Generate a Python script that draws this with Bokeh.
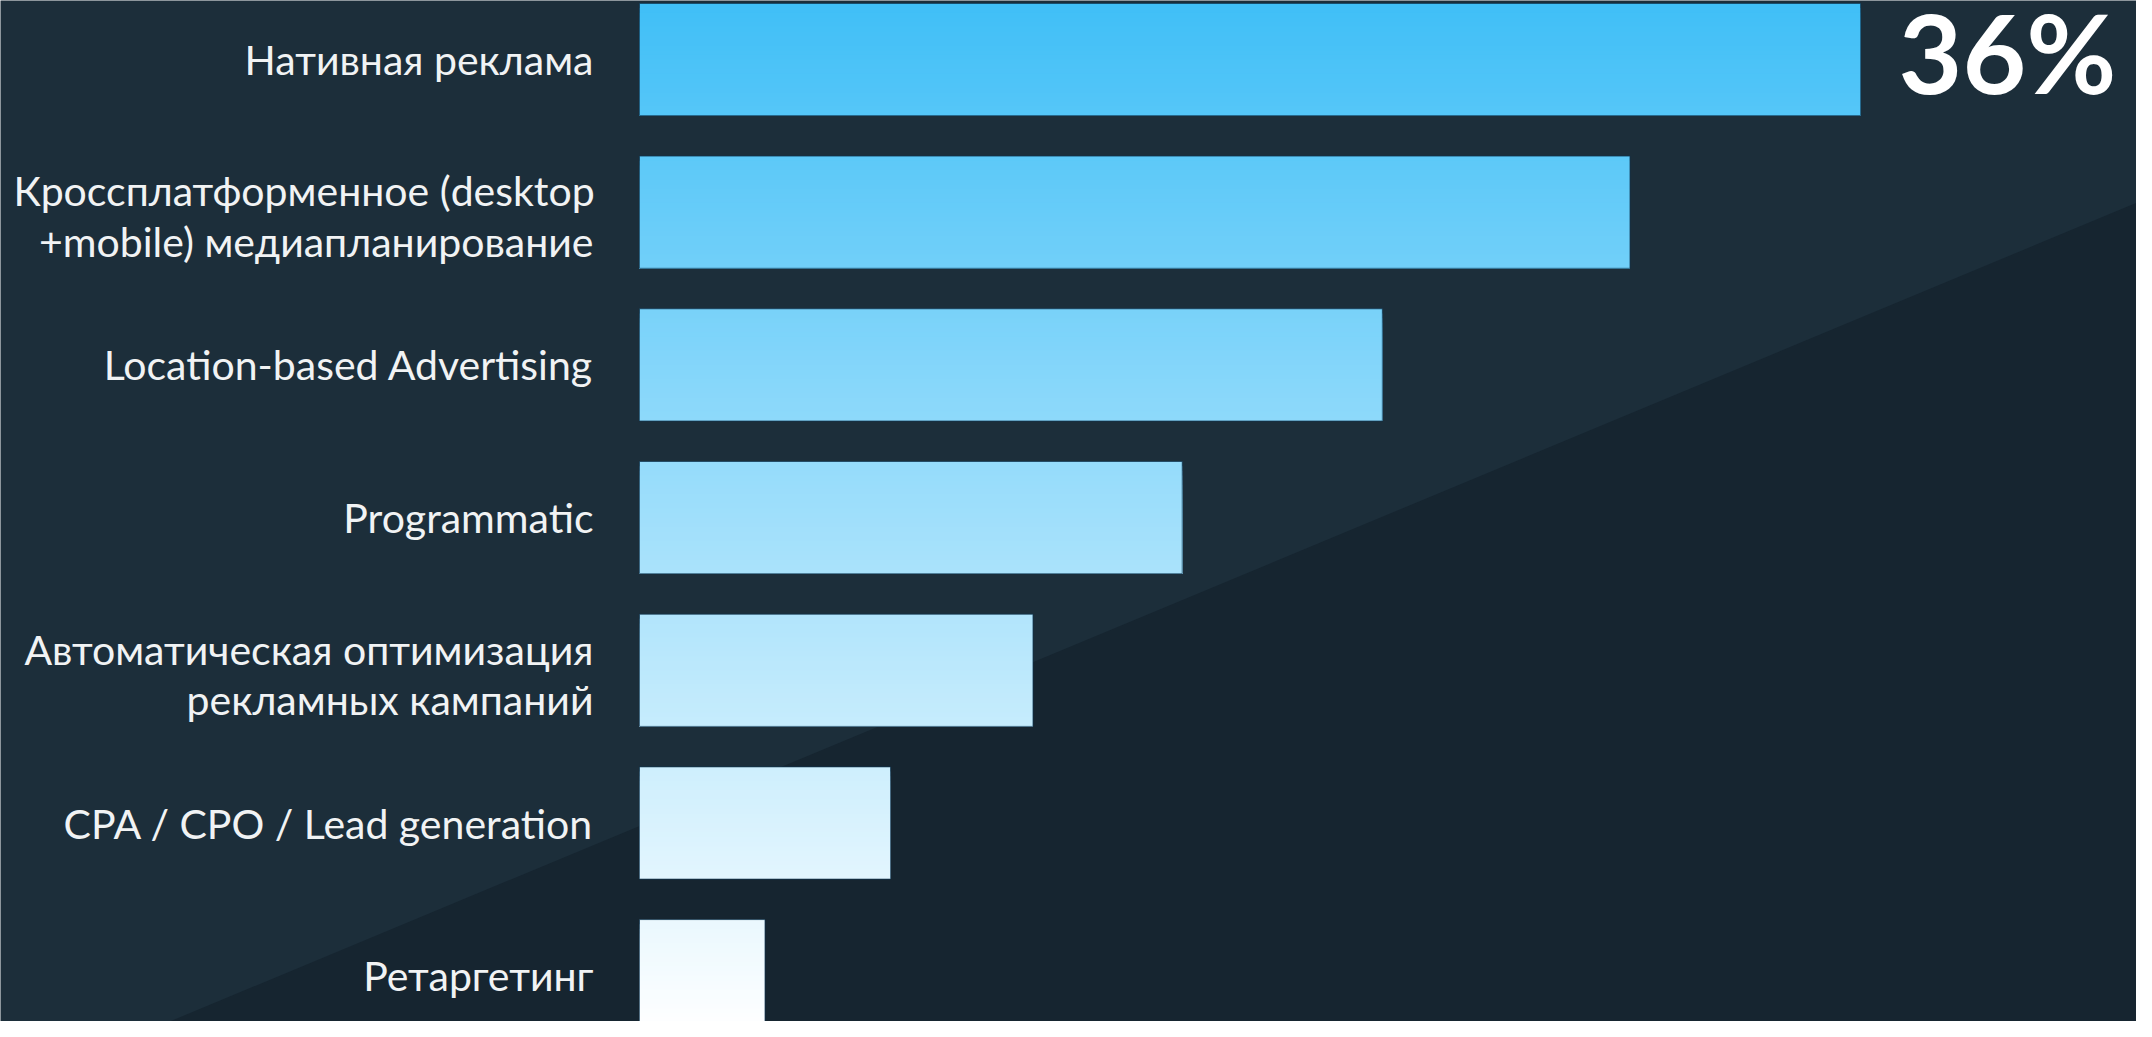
from bokeh.plotting import figure
from bokeh.models import ColumnDataSource, Range1d
from bokeh.core.properties import value
from bokeh.embed import file_html
from bokeh.resources import INLINE

# ---- data -------------------------------------------------------------
categories = [
    "Нативная реклама",
    "Кроссплатформенное (desktop\n+mobile) медиапланирование",
    "Location-based Advertising",
    "Programmatic",
    "Автоматическая оптимизация\nрекламных кампаний",
    "CPA / CPO / Lead generation",
    "Ретаргетинг",
]
shares = [36.0, 29.2, 21.9, 16.0, 11.6, 7.4, 3.7]
highlight_text = f"{shares[0]:.0f}%"

# ---- layout -----------------------------------------------------------
W, H = 2136, 1021
PX_PER_UNIT = 33.92   # pixels per percentage point
X0_PX = 639           # pixel position of value 0
ROW_PX = 152.7        # pixels between bar centres
Y0_PX = 59            # pixel position of first bar centre
BAR_H = 0.735

x_range = Range1d(-X0_PX / PX_PER_UNIT, (W - X0_PX) / PX_PER_UNIT)
y_range = Range1d((H - Y0_PX) / ROW_PX, -Y0_PX / ROW_PX)

BG_LIGHT = "#1c2e3a"
BG_DARK = "#162530"

p = figure(width=W, height=H, x_range=x_range, y_range=y_range,
           output_backend="svg", toolbar_location=None,
           x_axis_location=None, y_axis_location=None,
           min_border=0, min_border_left=0, min_border_right=0,
           min_border_top=0, min_border_bottom=0)
p.background_fill_color = BG_LIGHT
p.border_fill_color = BG_LIGHT
p.outline_line_color = None
p.grid.visible = False

# diagonal darker band of the background
def px_to_data(px, py):
    return (px - X0_PX) / PX_PER_UNIT, (py - Y0_PX) / ROW_PX

ax, ay = px_to_data(150, 1029)
bx, by = px_to_data(2144, 199)
p.patch([ax, bx, bx, ax], [ay, by, 20, 20], fill_color=BG_DARK, line_color=None)

# ---- bars with vertical gradient -----------------------------------------
c_top = (64, 191, 247)
c_bot = (255, 255, 255)
g_start = -BAR_H / 2
g_end = (len(shares) - 1) + BAR_H / 2
N = 24

def mix(t):
    t = max(0.0, min(1.0, t))
    r = round(c_top[0] + (c_bot[0] - c_top[0]) * t)
    g = round(c_top[1] + (c_bot[1] - c_top[1]) * t)
    b = round(c_top[2] + (c_bot[2] - c_top[2]) * t)
    return f"#{r:02x}{g:02x}{b:02x}"

strips = dict(left=[], right=[], top=[], bottom=[], color=[])
for i, v in enumerate(shares):
    top = i - BAR_H / 2
    bot = i + BAR_H / 2
    for j in range(N):
        y0 = top + j * BAR_H / N
        ym = y0 + BAR_H / (2 * N)
        strips["left"].append(0)
        strips["right"].append(v)
        strips["top"].append(y0)
        strips["bottom"].append(bot)
        strips["color"].append(mix((ym - g_start) / (g_end - g_start)))

p.quad(left="left", right="right", top="top", bottom="bottom",
       fill_color="color", line_color=None, source=ColumnDataSource(strips))

bars = ColumnDataSource(dict(
    left=[0] * len(shares), right=shares,
    top=[i - BAR_H / 2 for i in range(len(shares))],
    bottom=[i + BAR_H / 2 for i in range(len(shares))],
))
p.quad(left="left", right="right", top="top", bottom="bottom", source=bars,
       fill_color=None, line_color="#0e3550", line_alpha=0.7, line_width=1)

# ---- category labels -------------------------------------------------------
labels = ColumnDataSource(dict(
    x=[0] * len(categories),
    y=list(range(len(categories))),
    text=categories,
    dy=[4 if "\n" in c else 0 for c in categories],
))
p.text(x="x", y="y", text="text", source=labels, x_offset=-46, y_offset="dy",
       text_align="right", text_baseline="middle",
       text_font=value("Lato"), text_font_size="41px",
       text_color="#f1f3f4", text_line_height=1.03)

# ---- highlighted value -----------------------------------------------------
p.text(x=[shares[0]], y=[0], text=[highlight_text], x_offset=38, y_offset=-9,
       text_align="left", text_baseline="middle",
       text_font=value("Lato"), text_font_style="bold",
       text_font_size="110px", text_color="#ffffff")

open("out.html", "w").write(file_html(p, INLINE))
